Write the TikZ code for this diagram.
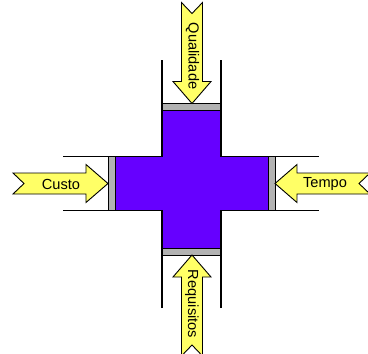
\documentclass[tikz,border=0pt]{standalone}
\usepackage{fontspec}
\setmainfont{Liberation Sans}
\usetikzlibrary{positioning}
\definecolor{crossfill}{RGB}{102,0,255}
\definecolor{barfill}{RGB}{178,178,178}
\definecolor{arrowfill}{RGB}{255,255,102}
\tikzset{
  guide/.style ={draw=black, line width=1.1pt},
  bar/.style   ={fill=barfill, draw=black, line width=0.4pt},
  yarrow/.style={fill=arrowfill, draw=black, line width=0.9pt, line join=miter},
  lbl/.style   ={font=\fontsize{14.6}{16}\selectfont, inner sep=0pt},
}
% arrow pointing along +x with its tip at the origin; #1 = tip, #2 = angle, #3 = length
\newcommand{\forcearrow}[3]{%
  \begin{scope}[shift={#1}, rotate=#2]
    \path[yarrow] (0,0) -- (-22,19) -- (-22,10.5) -- (-#3,10.5) -- (-#3+11,0)
      -- (-#3,-10.5) -- (-22,-10.5) -- (-22,-19) -- cycle;
  \end{scope}}

\begin{document}
\begin{tikzpicture}[x=1pt, y=-1pt]
  \useasboundingbox (0,0) rectangle (368,354);
  \clip (0,0) rectangle (368,354);

  % the cross
  \fill[crossfill] (162,110.5) -- (221,110.5) -- (221,156.5) -- (268,156.5)
    -- (268,210.5) -- (221,210.5) -- (221,248) -- (162,248) -- (162,210.5)
    -- (115,210.5) -- (115,156.5) -- (162,156.5) -- cycle;

  % grey stops at the ends of the arms
  \path[bar] (162,103.5) rectangle (221,110.5);
  \path[bar] (162,248) rectangle (221,255);
  \path[bar] (108,156.5) rectangle (115,210.5);
  \path[bar] (268,156.5) rectangle (275,210.5);

  % channel walls
  \draw[guide] (162,60) -- (162,156.5) -- (63,156.5);
  \draw[guide] (221,60) -- (221,156.5) -- (319,156.5);
  \draw[guide] (162,308) -- (162,210.5) -- (63,210.5);
  \draw[guide] (221,308) -- (221,210.5) -- (319,210.5);

  % the four forces
  \forcearrow{(108,183.5)}{0}{95}
  \forcearrow{(275,183.5)}{180}{95}
  \forcearrow{(192,103.5)}{-90}{101}
  \forcearrow{(192,255)}{90}{101}

  \node[lbl] (custo) at (61,184) {Custo};
  \node[lbl] (tempo) at (325,184) {Tempo};
  \node[lbl, rotate=-90] (qualidade) at (192.5,56) {Qualidade};
  \node[lbl, rotate=-90] (requisitos) at (192,304) {Requisitos};
\end{tikzpicture}
\end{document}
